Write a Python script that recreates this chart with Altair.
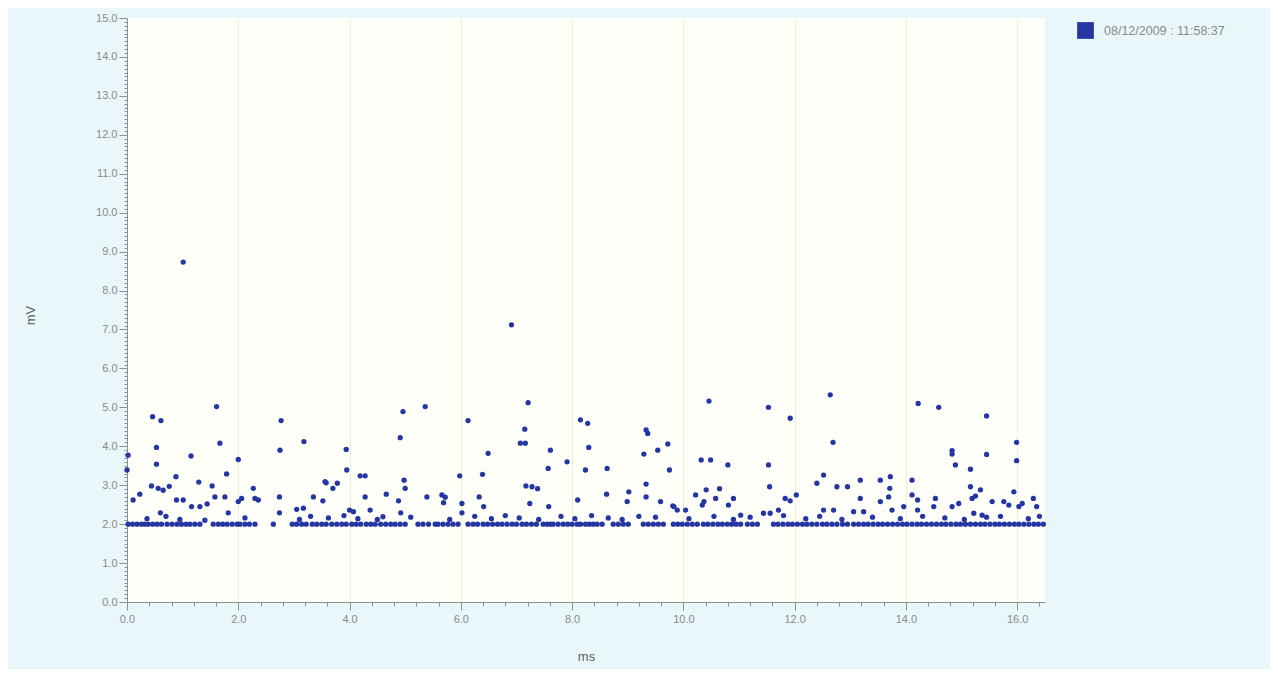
import altair as alt
import pandas as pd

SERIES = "08/12/2009 : 11:58:37"

# points sitting on the 2.0 mV floor (ms)
baseline_ms = [0.02, 0.1, 0.18, 0.26, 0.32, 0.38, 0.46, 0.54, 0.62, 0.72, 0.81, 0.9, 0.98, 1.06, 1.13,
               1.22, 1.31, 1.55, 1.64, 1.72, 1.8, 1.89, 1.98, 2.03, 2.12, 2.2, 2.3, 2.63,
               2.97, 3.05, 3.14, 3.22, 3.33, 3.41, 3.5, 3.58, 3.68, 3.77, 3.86, 3.94, 4.04, 4.12, 4.2,
               4.3, 4.38, 4.46, 4.56, 4.65, 4.74, 4.82, 4.91, 5.0, 5.23, 5.32, 5.42, 5.54,
               5.59, 5.68, 5.77, 5.86, 5.95, 6.13, 6.22, 6.3, 6.4, 6.48, 6.57, 6.66, 6.74, 6.83,
               6.92, 7.0, 7.1, 7.18, 7.27, 7.36, 7.48, 7.55, 7.61, 7.66, 7.75, 7.84, 7.92, 8.0, 8.09,
               8.15, 8.24, 8.31, 8.38, 8.45, 8.54, 8.74, 8.83, 8.92, 9.01, 9.28, 9.37, 9.46, 9.55, 9.64,
               9.82, 9.9, 9.98, 10.07, 10.16, 10.25, 10.36, 10.44, 10.53, 10.62, 10.7, 10.79, 10.87,
               10.95, 11.03, 11.15, 11.24, 11.33, 11.62, 11.7, 11.79, 11.88, 11.96, 12.05, 12.14,
               12.22, 12.31, 12.4, 12.5, 12.58, 12.67, 12.76, 12.86, 12.95, 13.06, 13.15, 13.24,
               13.32, 13.41, 13.5, 13.58, 13.67, 13.76, 13.85, 13.94, 14.02, 14.11, 14.2, 14.28,
               14.37, 14.46, 14.55, 14.64, 14.72, 14.81, 14.9, 14.98, 15.07, 15.16, 15.25, 15.34,
               15.42, 15.51, 15.6, 15.68, 15.77, 15.86, 15.95, 16.03, 16.12, 16.21, 16.3, 16.38, 16.47]

# points just above the floor
near_ms = [0.36, 0.95, 1.4, 2.12, 3.1, 3.3, 3.62, 3.9, 4.15, 4.5, 5.1, 5.8, 6.25, 6.55, 6.8, 7.05,
           7.4, 7.8, 8.05, 8.35, 8.65, 8.9, 9.2, 9.5, 10.1, 10.55, 10.9, 11.2, 11.8, 12.2, 12.45,
           12.85, 13.4, 13.9, 14.3, 14.7, 15.05, 15.45, 15.7, 16.2, 16.4]
near_mv = [2.14, 2.12, 2.1, 2.16, 2.12, 2.2, 2.16, 2.22, 2.14, 2.12, 2.18, 2.12, 2.2, 2.14, 2.22, 2.16,
           2.12, 2.2, 2.14, 2.22, 2.16, 2.12, 2.2, 2.18, 2.14, 2.2, 2.12, 2.18, 2.22, 2.14, 2.2,
           2.12, 2.18, 2.14, 2.2, 2.16, 2.12, 2.18, 2.2, 2.14, 2.2]

# scattered peaks
peak_ms = [1.01, 6.91,
           1.61, 0.46, 0.61, 2.77, 3.18, 1.67, 0.53, 2.75, 0.02, 1.15, 2.0, 0.53, 0.0, 1.79, 0.88,
           1.29, 1.53, 0.44, 0.56, 0.65, 0.76, 2.27, 0.23, 0.11, 0.89, 1.01, 1.16, 1.31, 1.44,
           1.58, 1.76, 2.0, 2.06, 2.3, 2.74, 2.74, 1.82, 0.6, 0.7,
           2.36, 3.05, 3.17, 3.35, 3.52, 3.58, 3.7, 3.78, 3.95, 4.0, 4.07, 4.19, 4.28, 4.28, 4.37,
           4.66, 4.6,
           4.96, 5.36, 6.13, 4.91, 3.94, 6.49, 5.98, 6.39, 3.56, 4.98, 5.0, 4.88, 5.39, 5.66,
           5.72, 6.02, 6.33, 6.41,
           4.92, 5.69, 6.02, 7.17, 7.28, 7.38, 7.24, 7.58, 7.57, 7.61, 7.91, 8.1, 8.24, 8.3, 8.15,
           8.28, 8.62, 8.63, 9.02, 8.99, 9.29, 9.33, 9.36, 9.33, 9.33, 9.54, 9.72, 9.75, 9.59, 9.81,
           7.21, 7.15, 7.07, 7.16,
           10.46, 11.53, 11.92, 12.64, 12.69, 10.32, 10.49, 10.8, 11.53, 12.52, 12.4, 12.76,
           12.95, 11.55, 10.41, 10.65,
           9.83, 9.89, 10.04, 10.22, 10.34, 10.37, 10.58, 10.81, 10.9, 11.03, 11.44, 11.56, 11.71,
           11.83, 11.92, 12.03, 12.52, 12.7, 13.18, 13.18, 13.06, 13.24, 13.54, 13.72, 13.54,
           13.69, 13.71, 13.96, 13.75, 14.11, 14.11, 14.21, 14.21, 14.53, 14.5, 14.83, 14.83,
           14.89, 15.16, 14.83, 14.95, 15.16, 15.19, 15.25, 15.34, 15.22, 15.37, 15.55, 15.76,
           15.85, 15.94, 16.03, 16.09, 16.29, 16.35, 15.45, 15.99, 15.99,
           14.22, 14.59, 15.45]
peak_mv = [8.73, 7.12,
           5.02, 4.76, 4.66, 4.66, 4.12, 4.08, 3.97, 3.9, 3.77, 3.75, 3.66, 3.54, 3.39, 3.29, 3.22,
           3.08, 2.98, 2.98, 2.92, 2.87, 2.97, 2.92, 2.77, 2.62, 2.62, 2.62, 2.45, 2.45, 2.52,
           2.7, 2.7, 2.58, 2.66, 2.66, 2.7, 2.29, 2.29, 2.29, 2.2,
           2.62, 2.38, 2.41, 2.7, 2.6, 3.06, 2.92, 3.05, 3.39, 2.36, 2.32, 3.24, 3.24, 2.7, 2.36,
           2.77, 2.19,
           4.89, 5.02, 4.66, 4.22, 3.92, 3.82, 3.24, 3.28, 3.09, 3.13, 2.92, 2.6, 2.7, 2.75,
           2.69, 2.53, 2.7, 2.45,
           2.29, 2.55, 2.29, 2.98, 2.96, 2.91, 2.53, 2.45, 3.43, 3.9, 3.6, 2.62, 3.39, 3.97, 4.68,
           4.59, 2.77, 3.43, 2.83, 2.58, 3.8, 4.42, 4.33, 3.03, 2.7, 3.9, 4.06, 3.39, 2.58, 2.47,
           5.12, 4.44, 4.08, 4.08,
           5.16, 5.0, 4.72, 5.32, 4.1, 3.65, 3.65, 3.52, 3.52, 3.26, 3.05, 2.96,
           2.96, 2.96, 2.88, 2.91,
           2.45, 2.36, 2.36, 2.75, 2.49, 2.58, 2.66, 2.49, 2.66, 2.23, 2.28, 2.28, 2.36,
           2.66, 2.6, 2.75, 2.36, 2.36, 3.13, 2.66, 2.32, 2.32, 3.13, 3.22, 2.58,
           2.7, 2.92, 2.45, 2.36, 3.13, 2.75, 2.62, 2.36, 2.66, 2.45, 3.89, 3.8,
           3.52, 3.41, 2.45, 2.53, 2.96, 2.66, 2.72, 2.88, 2.28, 2.23, 2.58, 2.58,
           2.49, 2.83, 2.45, 2.53, 2.66, 2.45, 3.79, 4.1, 3.63,
           5.1, 5.0, 4.78]

ms = baseline_ms + near_ms + peak_ms
mv = [2.0] * len(baseline_ms) + near_mv + peak_mv
df = pd.DataFrame({"ms": ms, "mV": mv, "series": SERIES})

x_ticks = [round(i * 0.4, 1) for i in range(42)]
y_ticks = [round(i * 0.1, 1) for i in range(151)]

x_major = "abs(datum.value/2 - round(datum.value/2)) < 0.001"
y_major = "abs(datum.value - round(datum.value)) < 0.001"

FONT = "Liberation Sans"
LABEL = "#8a8a8a"
AXISC = "#8f8f8f"

chart = alt.Chart(df).mark_circle(size=28, opacity=1).encode(
    x=alt.X("ms:Q", scale=alt.Scale(domain=[0, 16.5], nice=False, zero=False),
            axis=alt.Axis(values=x_ticks, title="ms",
                          labelExpr=f"{x_major} ? format(datum.value, '.1f') : ''",
                          tickSize={"condition": {"test": x_major, "value": 8}, "value": 4},
                          grid=True,
                          gridOpacity={"condition": {"test": x_major, "value": 1}, "value": 0},
                          gridColor="#f3eed2", gridWidth=1,
                          labelFont=FONT, labelFontSize=11, labelColor=LABEL, labelPadding=3,
                          tickColor=AXISC, domainColor=AXISC, labelFlush=False,
                          titleFont=FONT, titleFontSize=13, titleColor="#5e5e5e",
                          titleFontWeight="normal", titlePadding=26)),
    y=alt.Y("mV:Q", scale=alt.Scale(domain=[0, 15], nice=False),
            axis=alt.Axis(values=y_ticks, title="mV",
                          labelExpr=f"{y_major} ? format(datum.value, '.1f') : ''",
                          tickSize={"condition": {"test": y_major, "value": 8}, "value": 3},
                          grid=False,
                          labelFont=FONT, labelFontSize=11, labelColor=LABEL, labelPadding=2,
                          tickColor=AXISC, domainColor=AXISC, labelFlush=False,
                          titleFont=FONT, titleFontSize=13, titleColor="#5e5e5e",
                          titleFontWeight="normal", titleX=-90, titleY=297)),
    color=alt.Color("series:N", scale=alt.Scale(range=["#2536a3"]),
                    legend=alt.Legend(title=None, orient="none", legendX=950, legendY=4,
                                      symbolType="square", symbolSize=280,
                                      symbolStrokeWidth=0, symbolOpacity=1,
                                      labelFont=FONT, labelFontSize=12.5, labelColor=LABEL,
                                      labelOffset=10, labelLimit=300)),
).properties(
    width=918, height=584,
    autosize=alt.AutoSizeParams(type="none"),
    padding={"left": 119, "top": 10, "right": 225, "bottom": 67},
    background="#e9f6fa",
).configure_view(fill="#fffffa", stroke=None)

chart.save("out.html", embed_options={"renderer": "svg", "actions": False})
